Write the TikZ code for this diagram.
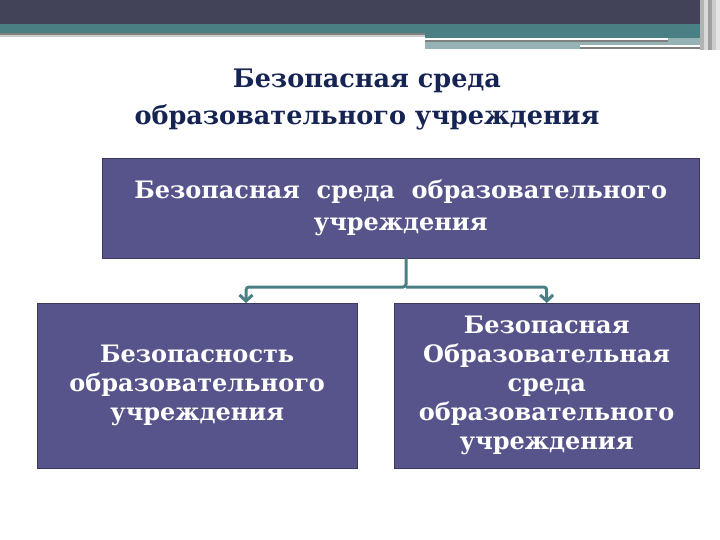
\documentclass[tikz,border=0pt]{standalone}
\usepackage{fontspec}
\setmainfont{DejaVu Serif}
\usetikzlibrary{arrows.meta}

\definecolor{bardark}{RGB}{66,66,88}
\definecolor{barteal}{RGB}{74,128,132}
\definecolor{barpale}{RGB}{150,178,180}
\definecolor{boxfill}{RGB}{86,84,138}
\definecolor{boxline}{RGB}{58,58,96}
\definecolor{titleblue}{RGB}{22,36,84}

\begin{document}
\begin{tikzpicture}[x=1pt,y=-1pt,
  box/.style={draw=boxline,fill=boxfill,text=white,anchor=north west,
    align=center,inner sep=0pt,font=\bfseries\fontsize{24}{29}\selectfont},
  link/.style={draw=barteal,line width=3pt,rounded corners=3pt,
    -{Straight Barb[length=6pt,width=13pt]}}]
\useasboundingbox (0,0) rectangle (720,540);

% top banner
\fill[bardark] (0,0) rectangle (720,24);
\fill[barteal] (0,24) rectangle (700,33);
\fill[gray] (0,33) rectangle (425,35);
\fill[gray!40] (0,35) rectangle (425,37);
\fill[barteal] (425,33) rectangle (700,38);
\fill[barpale] (425,38) rectangle (700,49);
\fill[white] (425,38.5) rectangle (668,40);
\fill[gray] (425,40) rectangle (668,42);
\fill[white] (580,45.5) rectangle (712,47.5);
\fill[gray] (580,47.5) rectangle (712,49.5);
\foreach \x/\c in {700/gray!60,704/gray!30,708/gray!75,712/gray!40,716/gray!20}
  \fill[\c] (\x,0) rectangle (\x+4,50);

% title
\node[text=titleblue,align=center,font=\bfseries\fontsize{25.5}{37}\selectfont]
  (title) at (367,100) {Безопасная среда\\образовательного учреждения};

% boxes
\node[box,minimum width=597pt,minimum height=100pt,
  font=\bfseries\fontsize{24}{32}\selectfont] (top) at (102,158)
  {Безопасная\ \ среда\ \ образовательного\\учреждения};
\node[box,minimum width=320pt,minimum height=165pt] (left) at (37,303)
  {Безопасность\\образовательного\\учреждения};
\node[box,minimum width=305pt,minimum height=165pt] (right) at (394,303)
  {Безопасная\\Образовательная\\среда\\образовательного\\учреждения};

% connectors
\coordinate (fork) at (406,287);
\coordinate (lhook) at (246,303);
\draw[link] (top.south -| fork) -- (fork) -| (lhook);
\draw[link] (fork) -| (right.north);
\end{tikzpicture}
\end{document}
